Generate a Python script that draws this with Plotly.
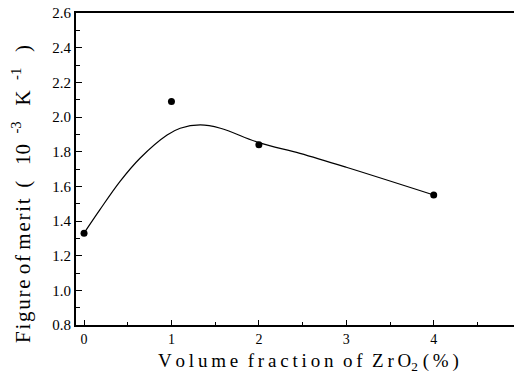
import plotly.graph_objects as go

# measured points
x_pts = [0, 1, 2, 4]
y_pts = [1.33, 2.09, 1.84, 1.55]

# fitted curve
x_fit = [0, 0.18, 0.41, 0.64, 0.95, 1.10, 1.33, 1.56, 2.0, 2.47, 3.0, 4.0]
y_fit = [1.33, 1.464, 1.627, 1.762, 1.896, 1.935, 1.954, 1.935, 1.852, 1.79, 1.71, 1.55]

x_ticks = [0, 1, 2, 3, 4, 5]
y_ticks = [0.8, 1.0, 1.2, 1.4, 1.6, 1.8, 2.0, 2.2, 2.4, 2.6]

FONT = "Liberation Serif"
TS = "\u2009"   # thin space (wide letter spacing of the original)
HS = "\u200a"   # hair space
NB = "\u00a0"


def spaced(word, sep=TS):
    return sep.join(list(word))


x_title = (spaced("Volume") + NB * 2 + spaced("fraction") + NB * 2 + spaced("of") + NB * 2
           + spaced("ZrO") + "<sub>2</sub>" + NB + spaced("(%)"))
y_title = (spaced("Figure", HS) + NB + spaced("of", HS) + NB + spaced("merit", HS) + NB * 2
           + "(" + NB * 3 + "10" + NB * 2 + "<sup>-3</sup>" + NB * 3 + "K" + NB * 2
           + "<sup>-1</sup>" + NB * 3 + ")")

fig = go.Figure()
fig.add_trace(go.Scatter(x=x_fit, y=y_fit, mode="lines",
                         line=dict(color="black", width=1.2, shape="spline", smoothing=1.0),
                         showlegend=False, hoverinfo="skip"))
fig.add_trace(go.Scatter(x=x_pts, y=y_pts, mode="markers",
                         marker=dict(color="black", size=7),
                         showlegend=False))

fig.update_layout(
    width=514, height=370,
    margin=dict(l=68, r=0, t=5, b=53, autoexpand=False),
    plot_bgcolor="white", paper_bgcolor="white",
    font=dict(family=FONT, color="black"),
    xaxis=dict(range=[-0.092, 5.01], tickvals=x_ticks, ticktext=[str(v) for v in x_ticks],
               automargin=False, ticklabeloverflow="allow",
               ticks="inside", ticklen=5, tickwidth=1.2, tickcolor="black",
               minor=dict(dtick=0.5, ticks="inside", ticklen=3, tickwidth=1, tickcolor="black"),
               showline=True, linecolor="black", linewidth=2, mirror=True,
               showgrid=False, zeroline=False,
               tickfont=dict(size=14, family=FONT)),
    yaxis=dict(range=[0.8, 2.6], tickvals=y_ticks, ticktext=[f"{v:.1f}" for v in y_ticks],
               automargin=False, ticklabeloverflow="allow",
               ticks="inside", ticklen=6, tickwidth=1.2, tickcolor="black",
               minor=dict(dtick=0.1, ticks="inside", ticklen=4, tickwidth=1, tickcolor="black"),
               showline=True, linecolor="black", linewidth=2, mirror=False,
               showgrid=False, zeroline=False,
               tickfont=dict(size=15, family=FONT)),
    annotations=[
        dict(text=x_title, xref="paper", yref="paper", x=0.521, y=-0.12,
             xanchor="center", yanchor="middle", showarrow=False,
             font=dict(size=19, family=FONT)),
        dict(text=y_title, xref="paper", yref="paper", x=-0.121, y=0.42,
             xanchor="center", yanchor="middle", textangle=-90, showarrow=False,
             font=dict(size=21, family=FONT)),
    ],
)

fig.write_html("out.html")
